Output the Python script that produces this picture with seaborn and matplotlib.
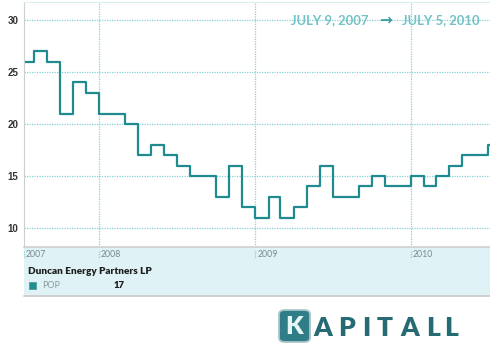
import pandas as pd
import matplotlib
matplotlib.use("Agg")
import matplotlib.pyplot as plt
import matplotlib.transforms as mtransforms
from matplotlib.patches import Rectangle, FancyBboxPatch
from matplotlib.lines import Line2D
import seaborn as sns

# ---- data -------------------------------------------------------------
company = "Duncan Energy Partners LP"
ticker = "POP"
latest_value = 17
start_date = "2007-07-09"
end_date = "2010-07-05"
range_start_label = "JULY 9, 2007"
range_end_label = "JULY 5, 2010"
month_starts = pd.date_range("2007-08-01", "2010-07-01", freq="MS")
prices = [26, 27, 26, 21, 24, 23, 21, 21, 20, 17, 18, 17, 16, 15, 15, 13,
          16, 12, 11, 13, 11, 12, 14, 16, 13, 13, 14, 15, 14, 14, 15, 14,
          15, 16, 17, 17, 18]
year_labels = ["2007", "2008", "2009", "2010"]
y_ticks = [10, 15, 20, 25, 30]
brand = "KAPITALL"

# ---- style ------------------------------------------------------------
sns.set_style("white")
plt.rcParams["font.family"] = ["Lato", "DejaVu Sans"]

LINE = "#1f8a8f"
GRID = "#86d0d2"
BAND = "#dff2f6"

W, H = 490, 350
fig = plt.figure(figsize=(W / 100, H / 100), dpi=100)
fig.patch.set_facecolor("white")


def fx(px):
    return px / W


def fy(py):
    return 1 - py / H


ax = fig.add_axes([fx(24), fy(247), fx(490) - fx(24), fy(2) - fy(247)])

dates = [pd.Timestamp(start_date)] + list(month_starts)
df = pd.DataFrame({"date": dates, "price": prices})
# carry the last value through to the end of the range
df = pd.concat([df, pd.DataFrame({"date": [pd.Timestamp(end_date)],
                                  "price": [prices[-1]]})], ignore_index=True)

sns.lineplot(data=df, x="date", y="price", drawstyle="steps-post",
             color=LINE, linewidth=1.6, ax=ax, zorder=3)

t0, t1 = pd.Timestamp(start_date), pd.Timestamp(end_date)
ax.set_xlim(t0, t1)
ax.set_ylim(8.17, 31.73)
ax.set_xlabel("")
ax.set_ylabel("")

# horizontal grid
ax.set_yticks(y_ticks)
ax.set_yticklabels([str(v) for v in y_ticks], fontsize=7, fontweight="bold",
                   color="#333333", family=["Liberation Sans", "DejaVu Sans"])
ax.tick_params(axis="y", length=0, pad=4)
ax.grid(axis="y", linestyle=(0, (1, 1)), color=GRID, linewidth=0.9)

# year gridlines and labels in the band below the axes
year_dates = [t0] + [pd.Timestamp(f"{y}-01-01") for y in year_labels[1:]]
ax.set_xticks(year_dates[1:])
ax.set_xticklabels([])
ax.tick_params(axis="x", length=0)
ax.grid(axis="x", linestyle=(0, (1, 1)), color=GRID, linewidth=0.9)

blend = mtransforms.blended_transform_factory(ax.transData, ax.transAxes)
for d, lab in zip(year_dates, year_labels):
    ax.add_line(Line2D([d, d], [-0.015, -0.045], transform=blend,
                       color=GRID, linestyle=(0, (1, 1)), linewidth=0.9,
                       clip_on=False))
    ax.text(d, -0.03, lab, transform=blend + mtransforms.ScaledTranslation(
        2 / 100, 0, fig.dpi_scale_trans), ha="left", va="center",
        fontsize=6.3, color="#7a8a8e")

ax.spines["right"].set_visible(False)
ax.spines["left"].set_color("#cfcfcf")
ax.spines["bottom"].set_color("#cfcfcf")
ax.spines["bottom"].set_linewidth(1.2)
ax.spines["top"].set_color("#dcf0f2")
for s in ax.spines.values():
    s.set_zorder(4)

# info band
fig.add_artist(Rectangle((fx(24), fy(296)), fx(490) - fx(24), fy(247) - fy(296),
                         transform=fig.transFigure, facecolor=BAND,
                         edgecolor="none", zorder=0))
fig.add_artist(Line2D([fx(24), 1], [fy(296), fy(296)], transform=fig.transFigure,
                      color="#cfcfcf", linewidth=1.4))

fig.text(fx(28), fy(271), company, ha="left", va="center", fontsize=7.2,
         fontweight="heavy", color="#1e1e1e")
fig.add_artist(Rectangle((fx(29), fy(289)), fx(36) - fx(29), fy(282) - fy(289),
                         transform=fig.transFigure, facecolor="#1f8f8f",
                         edgecolor="#5a9a9a", linewidth=0.6))
fig.text(fx(42), fy(285.5), ticker, ha="left", va="center", fontsize=6.5,
         color="#8a9a9e")
fig.text(fx(114), fy(285.5), str(latest_value), ha="left", va="center",
         fontsize=6.8, fontweight="heavy", color="#1e1e1e")

# date range caption
cap = "#72c2c6"
fig.text(fx(368), fy(20), range_start_label, ha="right", va="center",
         fontsize=9.4, fontweight="bold", color=cap)
fig.text(fx(385), fy(20), "\u2192", ha="center", va="center", fontsize=11,
         fontweight="bold", color="#3a9ea2", family=["DejaVu Sans"])
fig.text(fx(402), fy(20), range_end_label, ha="left", va="center",
         fontsize=9.4, fontweight="bold", color=cap)

# brand mark: boxed initial followed by spaced capitals
fig.add_artist(FancyBboxPatch((fx(279), fy(342)), fx(310) - fx(279), fy(310) - fy(342),
                              boxstyle="round,pad=0,rounding_size=0.012",
                              transform=fig.transFigure, facecolor="#2f7d87",
                              edgecolor="#a9c6ca", linewidth=1.3))
fig.text(fx(294.5), fy(327), brand[0], ha="center", va="center", fontsize=18,
         fontweight="heavy", color="#e6f5f6")
letter_centres = [322.5, 346.5, 366.5, 385, 410, 433.5, 451.5]
for ch, cx in zip(brand[1:], letter_centres):
    fig.text(fx(cx), fy(327.5), ch, ha="center", va="center", fontsize=19,
             fontweight="heavy", color="#266a74")

fig.savefig("out.png", dpi=100)
